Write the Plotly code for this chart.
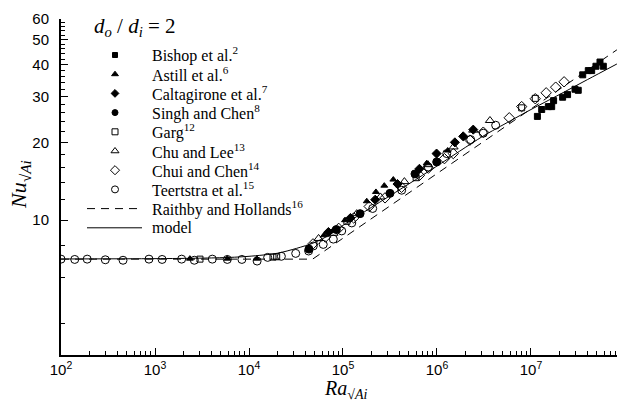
import plotly.graph_objects as go

# ---------------- data ----------------
ra_bishop = [1.17e7, 1.30e7, 1.53e7, 1.66e7, 1.74e7, 2.17e7, 2.45e7, 2.94e7, 3.18e7,
             3.55e7, 4.07e7, 4.42e7, 4.91e7, 5.42e7, 5.88e7]
nu_bishop = [25.2, 26.8, 27.5, 27.5, 29.0, 29.9, 30.6, 32.1, 31.8,
             36.5, 37.9, 37.9, 39.4, 40.9, 39.4]

ra_astill = [2350, 5880, 12100, 43100, 62800, 78900, 105000, 179000, 224000,
             275000, 343000, 776000, 1.3e6]
nu_astill = [7.1, 7.1, 7.1, 7.75, 8.75, 9.15, 10.0, 11.84, 12.86,
             13.6, 14.36, 16.6, 18.6]

ra_calta = [7.0e4, 1.2e5, 2.2e5, 3.8e5, 6.5e5, 9.9e5, 1.55e6, 1.9e6, 2.43e6]
nu_calta = [9.0, 10.2, 12.0, 13.8, 15.8, 18.1, 20.0, 21.1, 22.4]

ra_singh = [43400, 8.5e4, 1.52e5, 3.16e5, 5.83e5, 9.93e5]
nu_singh = [7.73, 9.2, 10.6, 12.7, 15.1, 16.8]

ra_garg = [3010, 18000, 19700, 1.1e5, 6.0e5, 7.96e6, 1.11e7]
nu_garg = [7.07, 7.2, 7.22, 9.9, 14.6, 27.2, 29.6]

ra_chulee = [5.5e4, 7.9e4, 1.4e5, 2.5e5, 4.5e5, 8.0e5, 1.5e6, 2.43e6, 3.66e6]
nu_chulee = [8.5, 8.9, 10.6, 12.3, 14.1, 16.4, 19.2, 22.3, 24.3]

ra_chui = [4.8e4, 6.5e4, 9.0e4, 1.3e5, 1.9e5, 2.8e5, 4.2e5, 6.5e5, 8.1e5, 1.2e6,
           1.49e6, 2.24e6, 3.11e6, 5.87e6, 7.96e6, 1.11e7, 1.45e7, 1.83e7, 2.25e7]
nu_chui = [8.1, 8.6, 9.3, 10.2, 11.3, 12.2, 13.4, 14.9, 15.9, 17.3,
           18.1, 20.4, 21.9, 24.9, 27.5, 29.5, 31.1, 32.7, 34.3]

ra_teert = [100, 140, 190, 296, 457, 863, 1190, 1920, 2620, 4070, 5880, 8400,
            12200, 15800, 22100, 31400, 43100, 48300, 61600, 78900, 96900,
            124000, 207000, 421000, 807000, 1.27e6, 2.28e6, 3.11e6, 4.21e6]
nu_teert = [7.07, 7.05, 7.07, 7.03, 7.0, 7.07, 7.05, 7.07, 7.0, 7.07, 7.05, 7.05,
            6.95, 7.18, 7.25, 7.44, 7.6, 7.95, 8.06, 8.45, 9.09,
            9.76, 11.1, 13.06, 16.06, 18.1, 20.5, 21.7, 23.3]

ra_raithby = [1e2, 4.75e4, 8.2e7]
nu_raithby = [7.07, 7.07, 45.6]

ra_model = [1e2, 1e3, 3e3, 6.3e3, 1e4, 2e4, 3.2e4, 5e4, 7.3e4, 1e5, 2e5, 5e5,
            1e6, 3e6, 6e6, 1e7, 2e7, 4e7, 8.2e7]
nu_model = [7.08, 7.1, 7.13, 7.18, 7.25, 7.45, 7.78, 8.2, 8.8, 9.55, 11.2, 13.8,
            16.2, 21.0, 24.2, 26.8, 30.6, 35.0, 40.2]

x_tick_vals = [1e2, 1e3, 1e4, 1e5, 1e6, 1e7]
x_tick_text = ["10<sup>2</sup>", "10<sup>3</sup>", "10<sup>4</sup>",
               "10<sup>5</sup>", "10<sup>6</sup>", "10<sup>7</sup>"]
y_tick_vals = [10, 20, 30, 40, 50, 60]
y_tick_text = ["10", "20", "30", "40", "50", "60"]

legend_names = ["Bishop et al.<sup>2</sup>", "Astill et al.<sup>6</sup>",
                "Caltagirone et al.<sup>7</sup>", "Singh and Chen<sup>8</sup>",
                "Garg<sup>12</sup>", "Chu and Lee<sup>13</sup>",
                "Chui and Chen<sup>14</sup>", "Teertstra et al.<sup>15</sup>",
                "Raithby and Hollands<sup>16</sup>", "model"]

# ---------------- styles ----------------
SERIF = "Liberation Serif"
SANS = "Liberation Sans"
point_series = [
    (ra_bishop, nu_bishop, "square", 6, 5),
    (ra_astill, nu_astill, "triangle-up", 6, 6),
    (ra_calta, nu_calta, "diamond", 7, 6),
    (ra_singh, nu_singh, "circle", 8, 6),
    (ra_garg, nu_garg, "square-open", 6, 6),
    (ra_chulee, nu_chulee, "triangle-up-open", 8, 7),
    (ra_chui, nu_chui, "diamond-open", 8, 7),
    (ra_teert, nu_teert, "circle-open", 8, 7),
]

fig = go.Figure()

fig.add_trace(go.Scatter(x=ra_raithby, y=nu_raithby, mode="lines",
                         line=dict(color="black", width=1, dash="8px,6px"),
                         showlegend=False, hoverinfo="skip"))
fig.add_trace(go.Scatter(x=ra_model, y=nu_model, mode="lines",
                         line=dict(color="black", width=1, shape="spline", smoothing=0.8),
                         showlegend=False, hoverinfo="skip"))

for xs, ys, sym, size, _ in point_series:
    fig.add_trace(go.Scatter(x=xs, y=ys, mode="markers",
                             marker=dict(symbol=sym, size=size, color="black",
                                         line=dict(color="black", width=1)),
                             showlegend=False))

# ---------------- manual legend on a pixel overlay ----------------
PX_L, PX_R, PX_T, PX_B = 61, 617, 19, 355
W, H = 617, 400
leg_top, leg_step = 55, 19.2
mark_x, text_x, line_x0, line_x1 = 115, 152, 87, 142


def px_to_paper_x(px):
    return (px - PX_L) / (PX_R - PX_L)


def px_to_paper_y(py):
    return (PX_B - py) / (PX_B - PX_T)


for i, (_, _, sym, _, lsize) in enumerate(point_series):
    yy = leg_top + i * leg_step
    fig.add_trace(go.Scatter(x=[mark_x], y=[yy], xaxis="x2", yaxis="y2", mode="markers",
                             marker=dict(symbol=sym, size=lsize, color="black",
                                         line=dict(color="black", width=1)),
                             showlegend=False, hoverinfo="skip"))
for j, dash in enumerate(["8px,6px", "solid"]):
    yy = leg_top + (len(point_series) + j) * leg_step
    fig.add_trace(go.Scatter(x=[line_x0, line_x1], y=[yy, yy], xaxis="x2", yaxis="y2",
                             mode="lines", line=dict(color="black", width=1, dash=dash),
                             showlegend=False, hoverinfo="skip"))

annotations = []
for i, name in enumerate(legend_names):
    annotations.append(dict(x=px_to_paper_x(text_x - 2), y=px_to_paper_y(leg_top + i * leg_step),
                            xref="paper", yref="paper",
                            text=name, showarrow=False, xanchor="left", yanchor="middle",
                            font=dict(family=SERIF, size=16, color="black")))
annotations.append(dict(x=px_to_paper_x(92), y=px_to_paper_y(27), xref="paper", yref="paper",
                        text="<i>d<sub>o</sub></i> / <i>d<sub>i</sub></i> = 2",
                        showarrow=False, xanchor="left", yanchor="middle",
                        font=dict(family=SERIF, size=21, color="black")))
annotations.append(dict(x=px_to_paper_x(20), y=px_to_paper_y(185), xref="paper", yref="paper",
                        textangle=-90,
                        text="<i>Nu</i><sub><i>√Ai</i></sub>",
                        showarrow=False, xanchor="center", yanchor="middle",
                        font=dict(family=SERIF, size=22, color="black")))
annotations.append(dict(x=px_to_paper_x(345), y=px_to_paper_y(389), xref="paper", yref="paper",
                        text="<i>Ra</i><sub><i>√Ai</i></sub>",
                        showarrow=False, xanchor="center", yanchor="middle",
                        font=dict(family=SERIF, size=20, color="black")))

x_minor = [m * 10 ** k for k in range(2, 8) for m in range(2, 10) if m * 10 ** k <= 8.2e7]
y_minor = [4, 6, 8, 12, 14, 16, 18, 22, 24, 26, 28, 32, 34, 36, 38,
           42, 44, 46, 48, 52, 54, 56, 58]

fig.update_layout(
    width=W, height=H,
    margin=dict(l=PX_L, r=W - PX_R, t=PX_T, b=H - PX_B, pad=0),
    paper_bgcolor="white", plot_bgcolor="white",
    showlegend=False,
    annotations=annotations,
    xaxis=dict(type="log", range=[2, 7.915], showgrid=False, zeroline=False,
               showline=True, linecolor="black", linewidth=2, mirror=False,
               ticks="inside", ticklen=7, tickwidth=1, tickcolor="black",
               tickmode="array", tickvals=x_tick_vals, ticktext=x_tick_text,
               tickfont=dict(family=SANS, size=15, color="black"),
               ticklabelstandoff=0,
               minor=dict(tickmode="array", tickvals=x_minor, ticks="inside",
                          ticklen=4, tickwidth=1, tickcolor="black", showgrid=False)),
    yaxis=dict(type="log", range=[0.4786, 1.7782], showgrid=False, zeroline=False,
               showline=True, linecolor="black", linewidth=2, mirror=False,
               ticks="inside", ticklen=7, tickwidth=1, tickcolor="black",
               tickmode="array", tickvals=y_tick_vals, ticktext=y_tick_text,
               tickfont=dict(family=SANS, size=15, color="black"),
               ticklabelstandoff=7,
               minor=dict(tickmode="array", tickvals=y_minor, ticks="inside",
                          ticklen=4, tickwidth=1, tickcolor="black", showgrid=False)),
    xaxis2=dict(overlaying="x", anchor="y2", range=[PX_L, PX_R], visible=False,
                fixedrange=True),
    yaxis2=dict(overlaying="y", anchor="x2", range=[PX_B, PX_T], visible=False,
                fixedrange=True),
)

fig.write_html("out.html", config={"displayModeBar": False, "staticPlot": True},
               post_script="document.body.style.margin='0';document.body.style.padding='0';")
